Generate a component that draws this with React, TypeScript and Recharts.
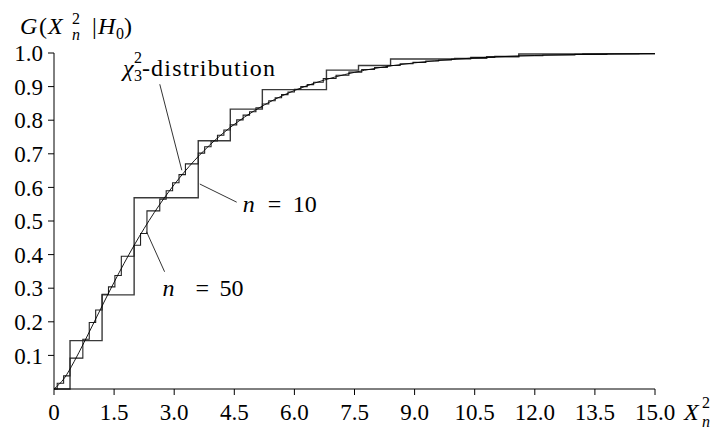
import React from 'react';
import { LineChart, Line, XAxis, YAxis, ReferenceLine, ReferenceDot } from 'recharts';

// chi-square (3 d.f.) distribution function
const chiX = [0, 0.25, 0.5, 0.75, 1, 1.25, 1.5, 1.75, 2, 2.25, 2.5, 2.75, 3, 3.25, 3.5, 3.75, 4, 4.5, 5, 5.5, 6, 6.5, 7, 7.5, 8, 8.5, 9, 10, 11, 12, 13, 14, 15];
const chiG = [0, 0.0309, 0.0811, 0.1386, 0.1987, 0.2589, 0.3177, 0.3741, 0.4276, 0.4778, 0.5247, 0.5682, 0.6084, 0.6453, 0.6792, 0.7102, 0.7385, 0.7877, 0.8282, 0.8614, 0.8884, 0.9103, 0.9281, 0.9424, 0.954, 0.9633, 0.9707, 0.9814, 0.9883, 0.9926, 0.9954, 0.9971, 0.9982];

// exact distribution, n = 10 (jump positions and levels)
const n10X = [0, 0.4, 1.2, 2.0, 3.6, 4.4, 5.2, 6.8, 7.6, 8.4, 10.0, 10.8, 11.6, 13.2, 15];
const n10G = [0, 0.144, 0.28, 0.569, 0.739, 0.833, 0.891, 0.949, 0.963, 0.982, 0.984, 0.989, 0.997, 0.998, 0.998];

// exact distribution, n = 50
const n50X = [0, 0.08, 0.24, 0.4, 0.72, 0.88, 1.04, 1.2, 1.36, 1.52, 1.68, 2.0, 2.16, 2.32, 2.64, 2.8, 2.96, 3.12, 3.28, 3.6, 3.76, 3.92, 4.08, 4.24, 4.4, 4.56, 4.72, 4.88, 5.04, 5.2, 5.36, 5.52, 5.68, 5.84, 6.0, 6.16, 6.32, 6.48, 6.72, 7.04, 7.36, 7.68, 8.0, 8.32, 8.64, 8.96, 9.28, 9.6, 9.92, 10.4, 11.0, 11.6, 12.2, 13.0, 13.8, 14.6, 15];
const n50G = [0, 0.017, 0.039, 0.092, 0.148, 0.198, 0.235, 0.282, 0.304, 0.338, 0.395, 0.428, 0.463, 0.53, 0.565, 0.59, 0.614, 0.638, 0.67, 0.702, 0.721, 0.738, 0.755, 0.771, 0.786, 0.801, 0.815, 0.825, 0.837, 0.848, 0.858, 0.867, 0.876, 0.884, 0.892, 0.9, 0.906, 0.913, 0.924, 0.934, 0.943, 0.951, 0.957, 0.963, 0.968, 0.972, 0.976, 0.979, 0.982, 0.987, 0.99, 0.992, 0.994, 0.996, 0.997, 0.998, 0.998];

const xTicks = [0, 1.5, 3, 4.5, 6, 7.5, 9, 10.5, 12, 13.5, 15];
const yTicks = [0.1, 0.2, 0.3, 0.4, 0.5, 0.6, 0.7, 0.8, 0.9, 1.0];

const FONT = 'Liberation Serif';

const toPoints = (xs: number[], gs: number[]) => xs.map((x, i) => ({ x, g: gs[i] }));

const chiData = toPoints(chiX, chiG);
const n10Data = toPoints(n10X, n10G);
const n50Data = toPoints(n50X, n50G);

const TitleLabel = () => (
  <text y={34} fontFamily={FONT} fontSize={24} fill="#000">
    <tspan x={20} fontStyle="italic">G</tspan>
    <tspan x={39}>(</tspan>
    <tspan x={48} fontStyle="italic">X</tspan>
    <tspan x={72} y={24} fontSize={16}>2</tspan>
    <tspan x={72} y={40} fontSize={16} fontStyle="italic">n</tspan>
    <tspan x={92} y={34}>|</tspan>
    <tspan x={98} fontStyle="italic">H</tspan>
    <tspan x={116} y={39} fontSize={16}>0</tspan>
    <tspan x={124} y={34}>)</tspan>
  </text>
);

const XLabel = () => (
  <text y={420} fontFamily={FONT} fontSize={24} fill="#000">
    <tspan x={684} fontStyle="italic">X</tspan>
    <tspan x={702} y={408} fontSize={16}>2</tspan>
    <tspan x={702} y={427} fontSize={16} fontStyle="italic">n</tspan>
  </text>
);

const anchor = (props: any) => {
  const vb = props.viewBox || {};
  return { x: (vb.x || 0) + (vb.width || 0) / 2, y: (vb.y || 0) + (vb.height || 0) / 2 };
};

const ChiText = (props: any) => {
  const { x, y } = anchor(props);
  return (
    <text x={x} y={y} fontFamily={FONT} fontSize={24} fill="#000">
      <tspan x={x} fontStyle="italic">χ</tspan>
      <tspan x={x + 11} y={y - 13} fontSize={16}>2</tspan>
      <tspan x={x + 11} y={y + 5} fontSize={16}>3</tspan>
      <tspan x={x + 19} y={y} letterSpacing={1.2}>-distribution</tspan>
    </text>
  );
};

const NText = ({ gapEq, gapNum, num, ...props }: any) => {
  const { x, y } = anchor(props);
  return (
    <text x={x} y={y} fontFamily={FONT} fontSize={24} fill="#000">
      <tspan x={x} fontStyle="italic">n</tspan>
      <tspan x={x + gapEq}>=</tspan>
      <tspan x={x + gapNum}>{num}</tspan>
    </text>
  );
};

export default function App() {
  return (
    <div style={{ position: 'absolute', left: 0, top: 0, background: '#fff' }}>
      <LineChart width={717} height={430} margin={{ top: 53, right: 62, bottom: 11, left: 0 }}>
        <XAxis
          dataKey="x"
          type="number"
          domain={[0, 15]}
          ticks={xTicks}
          interval={0}
          tickFormatter={(v: number) => (v === 0 ? '0' : v.toFixed(1))}
          tick={{ fill: '#000', fontSize: 23, fontFamily: FONT }}
          tickSize={6}
          tickMargin={9}
          height={30}
          axisLine={{ stroke: '#000' }}
          tickLine={{ stroke: '#000' }}
          label={<XLabel />}
        />
        <YAxis
          type="number"
          domain={[0, 1]}
          ticks={yTicks}
          interval={0}
          tickFormatter={(v: number) => v.toFixed(1)}
          tick={{ fill: '#000', fontSize: 23, fontFamily: FONT }}
          tickSize={6}
          tickMargin={5}
          width={54}
          axisLine={{ stroke: '#000' }}
          tickLine={{ stroke: '#000' }}
          label={<TitleLabel />}
        />
        <Line data={n10Data} dataKey="g" type="stepAfter" stroke="#3a3a3a" strokeWidth={1.4} dot={false} activeDot={false} isAnimationActive={false} />
        <Line data={n50Data} dataKey="g" type="stepAfter" stroke="#222" strokeWidth={1.1} dot={false} activeDot={false} isAnimationActive={false} />
        <Line data={chiData} dataKey="g" type="monotone" stroke="#000" strokeWidth={0.9} dot={false} activeDot={false} isAnimationActive={false} />

        <ReferenceLine segment={[{ x: 2.64, y: 0.907 }, { x: 3.19, y: 0.651 }]} stroke="#000" strokeWidth={0.8} />
        <ReferenceLine segment={[{ x: 3.64, y: 0.61 }, { x: 4.56, y: 0.556 }]} stroke="#000" strokeWidth={0.8} />
        <ReferenceLine segment={[{ x: 2.31, y: 0.468 }, { x: 2.76, y: 0.349 }]} stroke="#000" strokeWidth={0.8} />

        <ReferenceDot x={1.72} y={0.931} r={0} fill="none" stroke="none" label={<ChiText />} />
        <ReferenceDot x={4.71} y={0.526} r={0} fill="none" stroke="none" label={<NText gapEq={25} gapNum={50} num="10" />} />
        <ReferenceDot x={2.71} y={0.277} r={0} fill="none" stroke="none" label={<NText gapEq={33} gapNum={57} num="50" />} />
      </LineChart>
    </div>
  );
}
